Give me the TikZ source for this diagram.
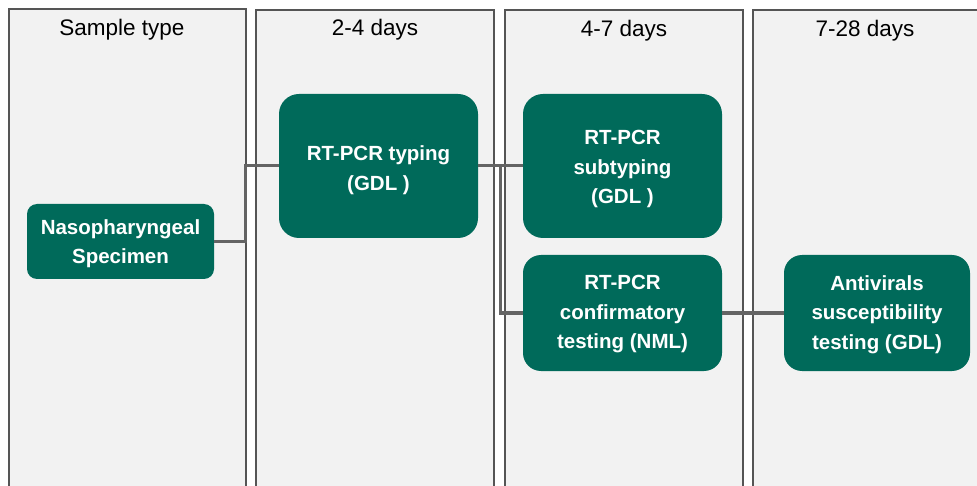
\documentclass[tikz,border=0pt]{standalone}
\usepackage{fontspec}
\setmainfont{Liberation Sans}
\definecolor{teal1}{RGB}{0,106,90}
\definecolor{colfill}{RGB}{242,242,242}
\definecolor{colline}{RGB}{85,85,85}
\definecolor{conn}{RGB}{100,100,100}
\begin{document}
\begin{tikzpicture}[x=1pt,y=-1pt,
  col/.style={fill=colfill,draw=colline,line width=1.3pt},
  hdr/.style={font=\fontsize{22.5}{26}\selectfont,text=black,anchor=center},
  box/.style={fill=teal1,draw=none,inner sep=0pt},
  boxtext/.style={text=white,align=center,
     font=\bfseries\fontsize{20.5}{29.5}\selectfont,inner sep=0pt},
  wire/.style={draw=conn,line width=3pt}]
\useasboundingbox (0,0) rectangle (977,486);
\clip (0,0) rectangle (977,486);
\fill[white] (0,0) rectangle (977,486);
% columns
\path[col] (9,9) rectangle (246,500);
\path[col] (256,10) rectangle (494,500);
\path[col] (505,10) rectangle (743,500);
\path[col] (753,10) rectangle (995,500);
\node[hdr] (h1) at (122,30) {Sample type};
\node[hdr] (h2) at (375,30) {2-4 days};
\node[hdr] (h3) at (624,31) {4-7 days};
\node[hdr] (h4) at (865,31) {7-28 days};
% boxes
\node[box,rounded corners=10pt,minimum width=187pt,minimum height=75pt] (spec) at (120.5,241.5) {};
\node[box,rounded corners=20pt,minimum width=199pt,minimum height=144pt] (typ) at (378.5,166) {};
\node[box,rounded corners=20pt,minimum width=199pt,minimum height=144pt] (sub) at (622.5,166) {};
\node[box,rounded corners=18pt,minimum width=199pt,minimum height=116pt] (conf) at (622.5,313) {};
\node[box,rounded corners=18pt,minimum width=186pt,minimum height=116pt] (anti) at (877,313) {};
\node[boxtext] (tspec) at ([yshift=-2pt]spec.center) {Nasopharyngeal\\Specimen};
\node[boxtext] (ttyp) at ([yshift=-4pt]typ.center) {RT-PCR typing\\(GDL )};
\node[boxtext] (tsub) at ([yshift=-3pt]sub.center) {RT-PCR\\subtyping\\(GDL )};
\node[boxtext] (tconf) at ([yshift=-1.5pt]conf.center) {RT-PCR\\confirmatory\\testing (NML)};
\node[boxtext] (tanti) at ([yshift=-1.5pt]anti.center) {Antivirals\\susceptibility\\testing (GDL)};
% connectors
\coordinate (j1) at (500,166);
\draw[wire] (spec.east) -- ++(31,0) |- (typ.west);
\draw[wire] (typ.east) -- (j1) -- (sub.west);
\draw[wire] (j1) |- (conf.west);
\draw[wire] (conf.east) -- (anti.west);
\end{tikzpicture}
\end{document}
